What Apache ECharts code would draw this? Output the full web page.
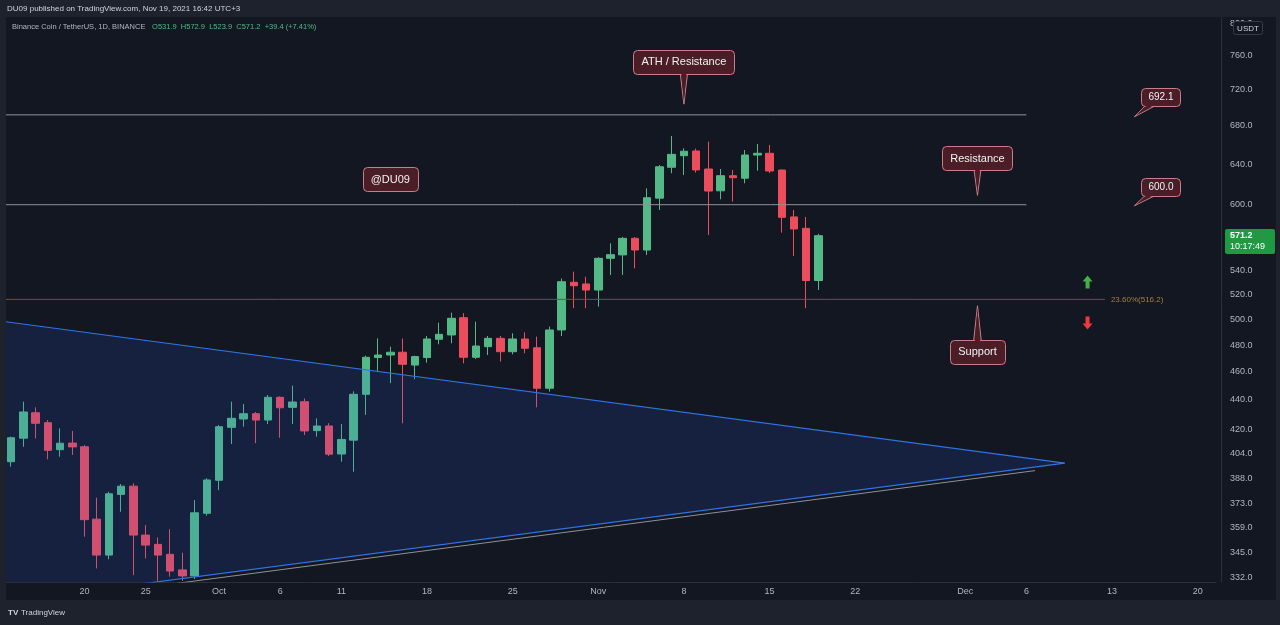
<!DOCTYPE html>
<html>
<head>
    <meta charset="utf-8">
    <script src="https://cdn.jsdelivr.net/npm/echarts@6.0.0/dist/echarts.min.js"></script>
    <style>
        html, body { margin: 0; padding: 0; background: #1e222d; }
    </style>
</head>
<body>
    <div id="main" style="width: 1280px;height:625px;"></div>
    <script type="text/javascript">
        // BNB/USDT daily candles from 2021-09-14, [open, close, low, high]
        var firstDay = '2021-09-14';
        var axisDayCount = 99; // up to 2021-12-21, empty space on the right
        var ohlc = [
            [398.8, 414.3, 395.7, 415.0], [414.0, 431.6, 408.4, 438.7], [431.1, 423.9, 413.9, 434.8],
            [424.3, 406.1, 400.3, 426.1], [406.5, 410.7, 402.0, 420.5], [410.8, 408.3, 403.1, 418.8],
            [408.4, 363.7, 354.0, 409.5], [364.0, 343.8, 336.6, 376.6], [343.8, 379.0, 341.5, 380.2],
            [378.6, 383.6, 368.3, 384.9], [383.6, 354.9, 333.0, 385.3], [354.9, 349.3, 342.0, 360.6],
            [349.7, 343.8, 330.0, 353.6], [344.2, 335.2, 332.2, 358.2], [335.8, 332.6, 330.0, 345.1],
            [332.6, 367.7, 331.0, 375.2], [367.4, 387.4, 366.0, 388.5],
            // Oct
            [387.2, 421.6, 381.2, 422.7], [421.2, 427.3, 410.2, 438.7], [426.8, 430.4, 421.6, 437.1],
            [430.4, 426.1, 410.7, 431.6], [426.1, 441.8, 423.4, 443.4], [441.8, 434.5, 414.3, 442.5],
            [434.8, 438.5, 423.4, 450.0], [438.7, 418.8, 416.1, 441.0], [419.0, 422.1, 415.0, 427.3],
            [422.1, 403.6, 402.4, 424.0], [403.7, 413.2, 398.8, 423.4], [412.7, 443.9, 392.5, 446.0],
            [443.9, 470.8, 429.6, 472.0], [470.6, 472.5, 460.1, 485.2], [472.5, 474.6, 451.8, 478.8],
            [474.6, 465.6, 423.9, 485.0], [465.0, 471.3, 454.6, 472.0], [470.6, 484.7, 466.8, 487.0],
            [484.5, 488.3, 480.6, 497.4], [487.8, 500.9, 481.4, 505.4], [501.4, 470.8, 466.3, 505.0],
            [470.8, 479.3, 469.5, 498.2], [478.8, 485.2, 472.5, 487.0], [485.2, 475.0, 467.6, 487.0],
            [475.0, 484.7, 473.0, 489.1], [484.7, 477.6, 473.8, 489.8], [478.0, 448.2, 434.8, 486.5],
            [448.2, 491.7, 445.8, 494.3], [491.7, 530.9, 487.0, 533.6], [530.4, 527.5, 509.0, 539.4],
            [529.0, 523.9, 509.0, 535.1],
            // Nov
            [523.9, 551.0, 510.3, 552.0], [551.0, 554.2, 536.6, 564.3], [554.0, 568.8, 536.6, 570.0],
            [568.8, 558.3, 542.3, 570.0], [558.3, 606.7, 554.0, 615.8], [606.3, 637.3, 595.0, 639.0],
            [636.8, 650.0, 630.8, 669.3], [648.6, 653.2, 629.0, 656.3], [653.5, 634.1, 631.4, 656.0],
            [635.0, 613.2, 571.8, 663.3], [613.4, 628.3, 605.2, 635.0], [628.3, 626.3, 603.0, 634.0],
            [625.8, 649.3, 620.8, 654.5], [649.3, 651.1, 633.3, 660.8], [651.1, 633.0, 631.0, 659.8],
            [634.0, 588.1, 573.9, 634.5], [588.5, 577.3, 553.0, 595.0], [577.9, 531.9, 509.0, 588.5],
            [531.9, 571.2, 523.9, 572.9]
        ];
        var lastPrice = 571.2;
        var countdown = '10:17:49';

        // time scale labels
        var xTickDays = ['2021-09-20', '2021-09-25', '2021-10-01', '2021-10-06', '2021-10-11', '2021-10-18',
            '2021-10-25', '2021-11-01', '2021-11-08', '2021-11-15', '2021-11-22', '2021-12-01',
            '2021-12-06', '2021-12-13', '2021-12-20'];
        var xTickText = ['20', '25', 'Oct', '6', '11', '18', '25', 'Nov', '8', '15', '22', 'Dec', '6', '13', '20'];

        // price scale (logarithmic)
        var yTicks = [332, 345, 359, 373, 388, 404, 420, 440, 460, 480, 500, 520, 540, 600, 640, 680, 720, 760, 800];
        var yMin = 329.4, yMax = 807.3;

        // drawings: [date, price]
        var triangle = [['2021-09-12', 500.2], ['2021-12-09 03:00', 397.9], ['2021-09-12', 318.0]];
        var lowerRail = [['2021-09-25 07:00', 326.8], ['2021-12-06 17:00', 393.2]];
        var levels = [692.1, 600.0];
        var levelSpan = ['2021-09-10', '2021-12-06'];
        var fibText = '23.60%(516.2)', fibPrice = 516.2, fibSpan = ['2021-09-10', '2021-12-12 10:00'];
        var callouts = [
            {text: 'ATH / Resistance', at: ['2021-11-08', 753], tip: ['2021-11-08', 704]},
            {text: '@DU09', at: ['2021-10-15', 625], tip: null},
            {text: 'Resistance', at: ['2021-12-02', 646], tip: ['2021-12-02', 609]},
            {text: 'Support', at: ['2021-12-02', 475], tip: ['2021-12-02', 511]}
        ];
        var priceTags = [
            {text: '692.1', at: ['2021-12-17', 712], tip: ['2021-12-14 20:00', 690]},
            {text: '600.0', at: ['2021-12-17', 617], tip: ['2021-12-14 20:00', 599]}
        ];
        var arrowUp = ['2021-12-11', 530.6];
        var arrowDown = ['2021-12-11', 497.1];

        var UP = '#53b987', DOWN = '#eb4d5c';
        var FONT = '"Liberation Sans", Arial, sans-serif';

        var days = [];
        for (var i = 0; i < axisDayCount; i++) {
            var p = firstDay.split('-');
            days.push(new Date(Date.UTC(+p[0], +p[1] - 1, +p[2] + i)).toISOString().slice(0, 10));
        }

        function P(pt) {
            return [echarts.time.parse(pt[0]), pt[1]];
        }

        var measureCtx = document.createElement('canvas').getContext('2d');
        function textWidth(s, font) {
            measureCtx.font = font;
            return measureCtx.measureText(s).width;
        }

        function noteShape(note, api, fontSize, padX, h) {
            var font = fontSize + 'px ' + FONT;
            var c = api.coord(P(note.at));
            var w = Math.round(textWidth(note.text, font) + 2 * padX);
            var x = Math.round(c[0] - w / 2) + 0.5, y = Math.round(c[1] - h / 2) + 0.5;
            var fill = '#4a1d27', stroke = '#c97d88';
            var children = [];
            var tail, inner;
            if (note.tip) {
                var t = api.coord(P(note.tip));
                var dx = t[0] - c[0], dy = t[1] - c[1], len = Math.sqrt(dx * dx + dy * dy);
                var nx = -dy / len * 5, ny = dx / len * 5;
                tail = [[c[0] + nx, c[1] + ny], t, [c[0] - nx, c[1] - ny]];
                inner = [[c[0] + nx * 0.7, c[1] + ny * 0.7], [t[0] - dx / len * 3, t[1] - dy / len * 3], [c[0] - nx * 0.7, c[1] - ny * 0.7]];
                children.push({type: 'polygon', shape: {points: tail}, style: {fill: fill, stroke: stroke, lineWidth: 1}});
            }
            children.push({type: 'rect', shape: {x: x, y: y, width: w, height: h, r: 4},
                style: {fill: fill, stroke: stroke, lineWidth: 1}});
            if (inner) {
                children.push({type: 'polygon', shape: {points: inner}, style: {fill: fill}});
            }
            children.push({type: 'text', style: {text: note.text, x: c[0], y: c[1] + 0.5, align: 'center',
                verticalAlign: 'middle', fill: '#f2f2f2', font: font}});
            return {type: 'group', children: children};
        }

        function segment(points, color, width, extra) {
            var s = {
                type: 'line', xAxisIndex: 1, yAxisIndex: 0, silent: true, symbol: 'none', z: 6,
                data: points.map(P),
                lineStyle: {color: color, width: width},
                animation: false
            };
            for (var k in extra) s[k] = extra[k];
            return s;
        }

        var series = [
            {
                name: 'BNBUSDT',
                type: 'candlestick',
                xAxisIndex: 0,
                yAxisIndex: 0,
                barWidth: 8,
                data: ohlc,
                itemStyle: {color: UP, color0: DOWN, borderColor: UP, borderColor0: DOWN, borderWidth: 1}
            },
            {
                type: 'custom', xAxisIndex: 1, yAxisIndex: 0, z: 5, clip: true, silent: true,
                data: triangle.map(P),
                renderItem: function (params, api) {
                    if (params.dataIndex !== 0) return null;
                    var pts = triangle.map(function (pt) { return api.coord(P(pt)); });
                    return {type: 'polygon', shape: {points: pts}, style: {fill: 'rgba(41,98,255,0.13)'}};
                }
            },
            segment([triangle[0], triangle[1]], '#2f74e6', 1.2),
            segment([triangle[2], triangle[1]], '#2f74e6', 1.2),
            segment(lowerRail, '#8e9199', 1),
            segment([[fibSpan[0], fibPrice], [fibSpan[1], fibPrice]], '#6e5436', 1, {
                endLabel: {show: true, formatter: fibText, color: '#a47b45', fontSize: 8, fontFamily: FONT, distance: 6}
            })
        ];
        levels.forEach(function (lv) {
            series.push(segment([[levelSpan[0], lv], [levelSpan[1], lv]], '#8f929b', 1));
        });
        series.push({
            type: 'custom', xAxisIndex: 1, yAxisIndex: 0, z: 10, silent: true,
            data: callouts.map(function (n) { return P(n.at); }),
            renderItem: function (params, api) {
                return noteShape(callouts[params.dataIndex], api, 11, 8, 24);
            }
        });
        series.push({
            type: 'custom', xAxisIndex: 1, yAxisIndex: 0, z: 10, silent: true,
            data: priceTags.map(function (n) { return P(n.at); }),
            renderItem: function (params, api) {
                return noteShape(priceTags[params.dataIndex], api, 10, 7, 18);
            }
        });
        series.push({
            type: 'scatter', xAxisIndex: 1, yAxisIndex: 0, z: 10, silent: true,
            data: [P(arrowUp)],
            symbol: 'path://M5,0 L10,6 L7,6 L7,13 L3,13 L3,6 L0,6 Z',
            symbolSize: [10, 13],
            itemStyle: {color: '#43b049', opacity: 1}
        });
        series.push({
            type: 'scatter', xAxisIndex: 1, yAxisIndex: 0, z: 10, silent: true,
            data: [P(arrowDown)],
            symbol: 'path://M5,13 L10,7 L7,7 L7,0 L3,0 L3,7 L0,7 Z',
            symbolSize: [10, 13],
            itemStyle: {color: '#f0393f', opacity: 1}
        });
        // last price tag on the price scale
        series.push({
            type: 'custom', xAxisIndex: 1, yAxisIndex: 0, z: 20, silent: true,
            data: [[echarts.time.parse('2021-11-19'), lastPrice]],
            renderItem: function (params, api) {
                var c = api.coord([api.value(0), api.value(1)]);
                var x0 = params.coordSys.x + params.coordSys.width + 9;
                var y0 = Math.round(c[1]);
                return {type: 'group', children: [
                    {type: 'rect', shape: {x: x0, y: y0 - 7, width: 50, height: 25, r: 2}, style: {fill: '#1f9a43'}},
                    {type: 'text', style: {text: lastPrice.toFixed(1), x: x0 + 5, y: y0, verticalAlign: 'middle',
                        fill: '#ffffff', font: 'bold 9px ' + FONT}},
                    {type: 'text', style: {text: countdown, x: x0 + 5, y: y0 + 11, verticalAlign: 'middle',
                        fill: '#ffffff', font: '9px ' + FONT}}
                ]};
            }
        });

        var option = {
            animation: false,
            backgroundColor: '#131722',
            grid: {left: 5, right: 64, top: 18, bottom: 43, outerBoundsMode: 'none'},
            xAxis: [
                {
                    type: 'category',
                    data: days,
                    boundaryGap: true,
                    axisLine: {lineStyle: {color: '#2a2e39'}},
                    axisTick: {show: false},
                    splitLine: {show: false},
                    axisLabel: {
                        interval: function (index, value) { return xTickDays.indexOf(value) >= 0; },
                        formatter: function (value) { return xTickText[xTickDays.indexOf(value)]; },
                        color: '#b2b5be', fontSize: 9, fontFamily: FONT, margin: 5, hideOverlap: false
                    }
                },
                {
                    type: 'time',
                    min: '2021-09-13 12:00',
                    max: '2021-12-21 12:00',
                    show: false
                }
            ],
            yAxis: [
                {
                    type: 'log',
                    logBase: 10,
                    min: yMin,
                    max: yMax,
                    show: false
                },
                {
                    type: 'value',
                    position: 'right',
                    offset: 5,
                    min: Math.log(yMin),
                    max: Math.log(yMax),
                    axisLine: {show: true, lineStyle: {color: '#2a2e39'}},
                    axisTick: {show: false},
                    splitLine: {show: false},
                    axisLabel: {
                        customValues: yTicks.map(Math.log),
                        formatter: function (v) { return Math.exp(v).toFixed(1); },
                        color: '#b2b5be', fontSize: 9, fontFamily: FONT, margin: 9
                    }
                }
            ],
            graphic: [
                {type: 'rect', z: 50, shape: {x: 0, y: 0, width: 1280, height: 17}, style: {fill: '#1e222d'}},
                {type: 'rect', z: 50, shape: {x: 0, y: 0, width: 6, height: 625}, style: {fill: '#1e222d'}},
                {type: 'rect', z: 50, shape: {x: 1276, y: 0, width: 4, height: 625}, style: {fill: '#1e222d'}},
                {type: 'rect', z: 50, shape: {x: 0, y: 600, width: 1280, height: 25}, style: {fill: '#1e222d'}},
                {type: 'text', z: 60, x: 7, y: 9, style: {text: 'DU09 published on TradingView.com, Nov 19, 2021 16:42 UTC+3',
                    fill: '#d1d4dc', font: '8px ' + FONT, verticalAlign: 'middle'}},
                {type: 'text', z: 60, x: 12, y: 27, style: {
                    text: '{a|Binance Coin / TetherUS, 1D, BINANCE}  {b|O531.9  H572.9  L523.9  C571.2  +39.4 (+7.41%)}',
                    verticalAlign: 'middle',
                    rich: {
                        a: {fill: '#b2b5be', font: '7.5px ' + FONT},
                        b: {fill: '#53b987', font: '7.5px ' + FONT}
                    }
                }},
                {type: 'rect', z: 60, shape: {x: 1233.5, y: 21.5, width: 29, height: 13, r: 2},
                    style: {fill: '#131722', stroke: '#363a45', lineWidth: 1}},
                {type: 'text', z: 61, x: 1248, y: 28.5, style: {text: 'USDT', fill: '#d1d4dc', font: '8px ' + FONT,
                    align: 'center', verticalAlign: 'middle'}},
                {type: 'text', z: 60, x: 8, y: 613, style: {text: 'TV', fill: '#d1d4dc', font: 'bold 8px ' + FONT,
                    verticalAlign: 'middle'}},
                {type: 'text', z: 60, x: 21, y: 613, style: {text: 'TradingView', fill: '#d1d4dc', font: '8px ' + FONT,
                    verticalAlign: 'middle'}}
            ],
            series: series
        };

        var myChart = echarts.init(document.getElementById('main'));
        myChart.setOption(option);
    </script>
</body>
</html>
